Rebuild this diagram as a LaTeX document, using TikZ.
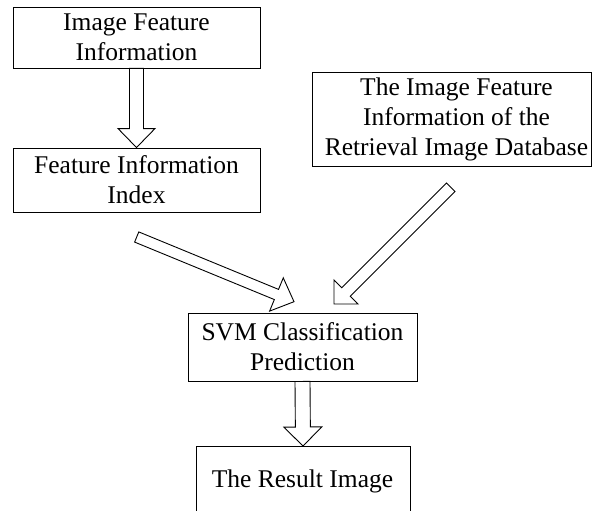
\documentclass[tikz,border=0pt]{standalone}
\usepackage{fontspec}
\setmainfont{Liberation Serif}
\usetikzlibrary{calc}

\tikzset{
  txt/.style={font=\fontsize{25.5}{30}\selectfont, align=center},
  box/.style={draw=black, line width=0.9pt, rectangle, inner sep=0pt, txt},
  lbl/.style={inner sep=0pt, txt},
  hollow/.style={draw=black, line width=0.9pt, line join=miter},
}

% hollow block arrow: tail, tip, shaft half-width, head half-width, head length
\newcommand\blockarrow[5]{%
  \coordinate (ba-n) at ($(#2)!#5!(#1)$);
  \draw[hollow]
    ($(#1)!#3!90:(#2)$) -- ($(ba-n)!#3!90:(#2)$) -- ($(ba-n)!#4!90:(#2)$)
    -- (#2)
    -- ($(ba-n)!#4!-90:(#2)$) -- ($(ba-n)!#3!-90:(#2)$) -- ($(#1)!#3!-90:(#2)$)
    -- cycle;
}

\begin{document}
\begin{tikzpicture}[x=1pt, y=-1pt]
  \useasboundingbox (0,0) rectangle (592,511);
  \fill[white] (0,0) rectangle (592,511);

  % boxes
  \node[box, minimum width=247pt, minimum height=61pt] (feat) at (136.5,37.5)
    {Image Feature\\Information};
  \node[box, minimum width=247pt, minimum height=64pt] (index) at (136.5,180)
    {Feature Information\\Index};
  \node[box, minimum width=279pt, minimum height=94pt] (db) at (451.5,119) {};
  \node[lbl] (dbtext) at (456.5,119)
    {The Image Feature\\Information of the\\Retrieval Image Database};
  \node[box, minimum width=229pt, minimum height=68pt] (svm) at (302.5,347)
    {SVM Classification\\Prediction};
  \node[box, minimum width=214pt, minimum height=90pt, anchor=north] (res) at (303,446) {};
  \node[lbl, anchor=base] (restext) at (302.5,487) {The Result Image};

  % arrow end points
  \coordinate (l-tail) at (136.7,237);
  \coordinate (l-tip)  at (294,301.7);
  \coordinate (r-tail) at (450.8,187.2);
  \coordinate (r-tip)  at (334,304);

  % connectors
  \blockarrow{feat.south}{index.north}{7pt}{18.5pt}{19pt}
  \blockarrow{l-tail}{l-tip}{5.5pt}{18pt}{19pt}
  \blockarrow{r-tail}{r-tip}{6pt}{17pt}{17pt}
  \blockarrow{svm.south}{res.north}{7.5pt}{19pt}{19pt}
\end{tikzpicture}
\end{document}
